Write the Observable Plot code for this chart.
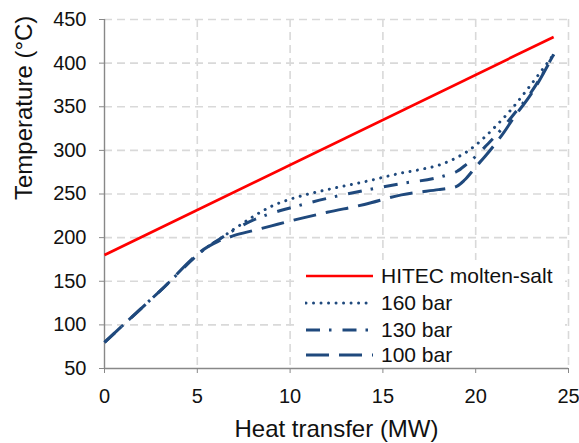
<!DOCTYPE html>
<html><head><meta charset="utf-8">
<script src="https://cdn.jsdelivr.net/npm/d3@7"></script>
<script src="https://cdn.jsdelivr.net/npm/@observablehq/plot@0.6"></script>
<style>
body{margin:0;background:#fff;font-family:"Liberation Sans",Arial,sans-serif;}
#wrap{position:relative;width:579px;height:443px;}
#legend{position:absolute;left:296px;top:260px;width:269px;height:107px;background:#fff;}
.row{position:absolute;left:0;height:20px;display:flex;align-items:center;font-size:21px;color:#111;white-space:nowrap;}
.row svg{margin-left:9px;margin-right:8px;display:block;}
</style></head>
<body><div id="wrap"><div id="legend"></div></div>
<script>
const saltX = [0, 24.2];
const saltT = [180, 430];

const x160 = [5.6, 6.1, 7, 8, 9, 10, 11, 12, 14, 16, 17, 18, 18.5, 19, 19.5, 20, 21, 22, 23, 24.2];
const t160 = [190, 197, 210, 224, 236, 244, 250, 255, 264, 274, 278, 283, 287, 292, 298, 306, 326, 349, 376, 410];

const x130 = [0, 3, 5.6, 6.1, 7, 8, 9, 10, 12, 14, 16, 18, 18.5, 19, 19.5, 20, 20.5, 21, 21.5, 22, 23, 24.2];
const t130 = [80, 139, 190, 197, 209, 220, 228, 234, 245, 254, 262, 269, 272, 276, 284, 293, 304, 315, 327, 340, 367, 410];

const x100 = [0, 3, 5.6, 6.1, 6.6, 7, 8, 9, 10, 12, 14, 16, 18, 18.5, 19, 19.4, 20, 20.5, 21, 21.5, 22, 23, 24.2];
const t100 = [80, 139, 190, 195.5, 199.5, 202.5, 208, 213.5, 219, 229, 238, 249, 255, 256.5, 259, 266, 281, 293, 306, 320, 336, 365, 410];

const xTicks = [0, 5, 10, 15, 20, 25];
const yTicks = [50, 100, 150, 200, 250, 300, 350, 400, 450];

const series = [
  {name: "HITEC molten-salt", xs: saltX, ts: saltT, color: "#ff0000", dash: null, w: 2.7},
  {name: "160 bar", xs: x160, ts: t160, color: "#1f497d", dash: "0.01,7.5", w: 3, cap: "round"},
  {name: "130 bar", xs: x130, ts: t130, color: "#1f497d", dash: "14,9,2.5,11", w: 3},
  {name: "100 bar", xs: x100, ts: t100, color: "#1f497d", dash: "23,10", w: 3}
];
const rows = s => s.xs.map((x, i) => ({x, t: s.ts[i]}));

const grid = {stroke: "#d9d9d9", strokeOpacity: 1, strokeWidth: 1.6, strokeDasharray: "8,5"};

const plot = Plot.plot({
  width: 579, height: 443,
  marginLeft: 104, marginRight: 11, marginTop: 19, marginBottom: 75,
  style: {fontFamily: '"Liberation Sans", Arial, sans-serif', fontSize: "20px", color: "#111", background: "#fff"},
  x: {domain: [0, 25]},
  y: {domain: [50, 450]},
  marks: [
    Plot.gridX(xTicks.filter(d => d > 0), grid),
    Plot.gridY(yTicks.filter(d => d > 50), grid),
    Plot.ruleX([0], {stroke: "#888", strokeWidth: 1.4}),
    Plot.ruleY([50], {stroke: "#888", strokeWidth: 1.4}),
    Plot.axisX(xTicks, {tickSize: 5, stroke: "#888", tickPadding: 15, fontSize: 20, label: null}),
    Plot.axisY(yTicks, {tickSize: 5, stroke: "#888", tickPadding: 13, fontSize: 20, label: null}),
    ...series.map(s => Plot.line(rows(s), {x: "x", y: "t", stroke: s.color, strokeWidth: s.w, strokeDasharray: s.dash, strokeLinecap: s.cap || "butt", curve: "monotone-x"})),
    Plot.text(["Heat transfer (MW)"], {frameAnchor: "bottom", lineAnchor: "middle", dy: 61, fontSize: 24}),
    Plot.text(["Temperature (°C)"], {frameAnchor: "left", lineAnchor: "middle", dx: -80, dy: 6, rotate: -90, fontSize: 24})
  ]
});
document.getElementById("wrap").prepend(plot);

const leg = document.getElementById("legend");
const tops = [6, 32.5, 59.5, 84.5];
series.forEach((s, i) => {
  const r = document.createElement("div");
  r.className = "row";
  r.style.top = tops[i] + "px";
  r.innerHTML = `<svg width="68" height="10"><line x1="1" y1="5" x2="68" y2="5" stroke="${s.color}" stroke-width="${s.w}" stroke-linecap="${s.cap || "butt"}" ${s.dash ? `stroke-dasharray="${s.dash}"` : ""}/></svg><span>${s.name}</span>`;
  leg.appendChild(r);
});
</script></body></html>
